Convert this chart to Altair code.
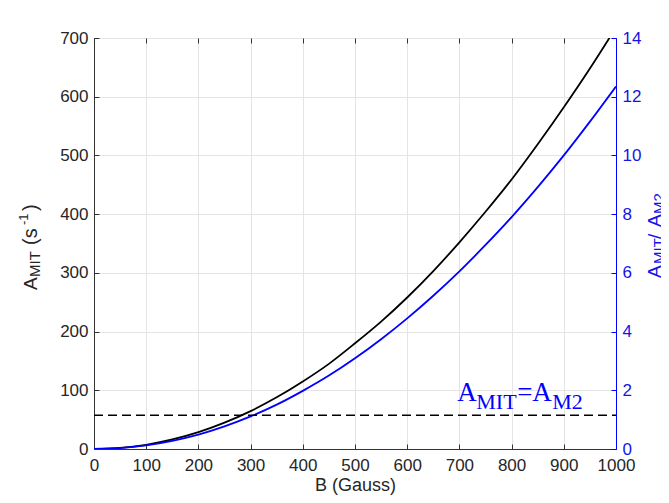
import altair as alt
import pandas as pd

# ---- data ----
B_gauss = [0, 50, 100, 150, 200, 250, 300, 350, 400, 450, 500,
           550, 600, 650, 700, 750, 800, 850, 900, 950, 1000]
A_MIT = [0, 1.8, 7.2, 16.2, 28.7, 44.9, 64.6, 88, 115, 145, 180,
         217, 258, 303, 352, 404, 459, 519, 582, 648, 718]
ratio = [0, 0.031, 0.124, 0.28, 0.49, 0.77, 1.11, 1.51, 1.98, 2.50, 3.09,
         3.74, 4.45, 5.22, 6.05, 6.95, 7.90, 8.92, 10.0, 11.15, 12.35]
dash_level = [57.4]
dash_from = [0]
dash_to = [1000]
annot_B = [696]
annot_level = [81]

x_ticks = list(range(0, 1001, 100))
yl_ticks = list(range(0, 701, 100))
yr_ticks = list(range(0, 15, 2))

W, H = 522, 411
SANS = "Liberation Sans"
SERIF = "Liberation Serif"
DARK = "#262626"
BLUE = "#0000ff"
BLUE_TXT = "#1414e6"
GRID = "#e4e4e4"

df = pd.DataFrame({"B": B_gauss, "A": A_MIT, "R": ratio})
dash_df = pd.DataFrame({"x": dash_from, "x2": dash_to, "y": dash_level})
ann_df = pd.DataFrame({"B": annot_B, "y": annot_level})
one = pd.DataFrame({"k": [0]})

xs = alt.Scale(domain=[0, 1000], nice=False, zero=False)
yls = alt.Scale(domain=[0, 700], nice=False)
yrs = alt.Scale(domain=[0, 14], nice=False)

black = alt.Chart(df).mark_line(color="black", strokeWidth=1.8, clip=True,
                                interpolate="monotone").encode(
    x=alt.X("B:Q", scale=xs, axis=alt.Axis(
        orient="bottom", values=x_ticks, format="d", title="B (Gauss)",
        grid=True, gridColor=GRID, ticks=False, domainColor="#333333",
        labelFont=SANS, labelFontSize=17, labelColor=DARK, labelPadding=8,
        labelFlush=False, labelOverlap=False,
        titleFont=SANS, titleFontSize=18, titleFontWeight="normal",
        titleColor=DARK, titlePadding=3)),
    y=alt.Y("A:Q", scale=yls, axis=alt.Axis(
        orient="left", values=yl_ticks, format="d", title=None, grid=True,
        gridColor=GRID, ticks=False, domainColor="#333333",
        labelFont=SANS, labelFontSize=17, labelColor=DARK, labelPadding=6,
        labelFlush=False, labelOverlap=False)),
)

blue = alt.Chart(df).mark_line(color=BLUE, strokeWidth=1.8, clip=True,
                               interpolate="monotone").encode(
    x=alt.X("B:Q", scale=xs, axis=None),
    y=alt.Y("R:Q", scale=yrs, axis=alt.Axis(
        orient="right", values=yr_ticks, format="d", title=None, grid=False,
        ticks=False, domainColor=BLUE, labelFont=SANS, labelFontSize=17,
        labelColor=BLUE_TXT, labelPadding=6, labelFlush=False,
        labelOverlap=False)),
)

# inward tick marks: bottom edge and left edge
ticks1 = alt.Chart(df).mark_line(opacity=0).encode(
    x=alt.X("B:Q", scale=xs, axis=alt.Axis(
        orient="top", offset=-H, values=x_ticks, labels=False, title=None,
        grid=False, domain=False, ticks=True, tickSize=5, tickColor="#333333")),
    y=alt.Y("A:Q", scale=yls, axis=alt.Axis(
        orient="right", offset=-W, values=yl_ticks, labels=False, title=None,
        grid=False, domain=False, ticks=True, tickSize=5, tickColor="#333333")),
)
# inward tick marks: top edge and right edge
ticks2 = alt.Chart(df).mark_line(opacity=0).encode(
    x=alt.X("B:Q", scale=xs, axis=alt.Axis(
        orient="bottom", offset=-H, values=x_ticks, labels=False, title=None,
        grid=False, domain=False, ticks=True, tickSize=5, tickColor="#333333")),
    y=alt.Y("R:Q", scale=yrs, axis=alt.Axis(
        orient="left", offset=-W, values=yr_ticks, labels=False, title=None,
        grid=False, domain=False, ticks=True, tickSize=5, tickColor=BLUE)),
)

dash = alt.Chart(dash_df).mark_rule(color="black", strokeWidth=1.5,
                                    strokeDash=[9, 5]).encode(
    x=alt.X("x:Q", scale=xs, axis=None),
    x2="x2:Q",
    y=alt.Y("y:Q", scale=yls, axis=None),
)

# annotation A_MIT = A_M2 (serif, blue)
ann_parts = [("A", 27, 0, 0), ("MIT", 22, 19, 8), ("=", 27, 60, 0),
             ("A", 27, 75, 0), ("M2", 22, 95, 8)]
ann_layers = []
for txt, fs, dx, dy in ann_parts:
    ann_layers.append(
        alt.Chart(ann_df).mark_text(
            text=txt, font=SERIF, fontSize=fs, color=BLUE, align="left",
            baseline="alphabetic", dx=dx, dy=dy).encode(
            x=alt.X("B:Q", scale=xs, axis=None),
            y=alt.Y("y:Q", scale=yls, axis=None)))

# rotated axis titles with sub/superscripts
def rot(txt, fs, x, y, color):
    return alt.Chart(one).mark_text(
        text=txt, font=SANS, fontSize=fs, color=color, angle=270,
        align="left", baseline="alphabetic").encode(
        x=alt.value(x), y=alt.value(y))

left_title = [
    rot("A", 19, -57, 252, DARK),
    rot("MIT", 15, -54.5, 239, DARK),
    rot("(s", 20, -57, 207, DARK),
    rot("-1", 13, -66, 187, DARK),
    rot(")", 20, -57, 173, DARK),
]
right_title = [
    rot("A", 19, 567, 240, BLUE_TXT),
    rot("MIT", 15, 570, 226, BLUE_TXT),
    rot("/", 19, 567, 201, BLUE_TXT),
    rot("A", 19, 567, 189, BLUE_TXT),
    rot("M2", 15, 570, 176, BLUE_TXT),
]

chart = alt.layer(
    black, blue, ticks1, ticks2, dash, *ann_layers, *left_title, *right_title
).resolve_scale(
    x="independent", y="independent"
).resolve_axis(
    x="independent", y="independent"
).properties(
    width=W, height=H,
    autosize=alt.AutoSizeParams(type="none"),
    padding={"left": 86, "top": 30, "right": 45, "bottom": 46},
    background="white",
).configure_view(
    stroke="#333333", strokeWidth=1
)

chart.save("out.html", embed_options={"renderer": "svg", "actions": False})
